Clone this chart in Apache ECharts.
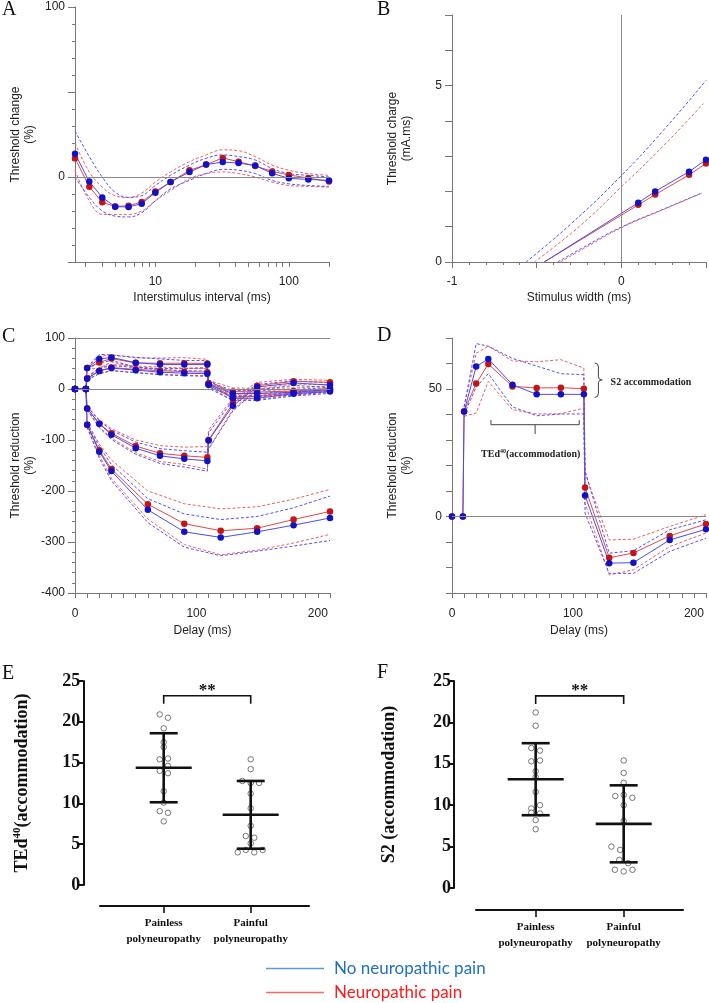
<!DOCTYPE html>
<html><head><meta charset="utf-8">
<script src="https://cdn.jsdelivr.net/npm/echarts@6/dist/echarts.min.js"></script>
<style>html,body{margin:0;padding:0;background:#fff}#c{width:709px;height:1003px}</style>
</head><body><div id="c"></div>
<script>
// ---------- Panel A: recovery cycle ----------
const aX      = [2.5,3.2,4,5,6.3,7.9,10,13,18,24,32,42,56,75,100,140,200];
const aBlue   = [13.7,-2.7,-12,-17.5,-17.6,-15.7,-9.2,-2.9,2.9,7.3,8.8,8.2,6.7,2.2,-0.8,-1.4,-2.0];
const aRed    = [11,-5.7,-14.9,-17.3,-16.9,-14.7,-8.6,-2.9,3.9,7.3,11.2,9,6.5,3.3,1.2,-0.6,-2.7];
const aBlueHi = [27,12,0,-9,-12,-11,-5,1,7,11,13,12,10,5,2,1,0];
const aBlueLo = [0,-12,-20,-23,-23.5,-21,-14,-7,-2,2,4.5,4,2,-2,-4,-5,-5.5];
const aRedHi  = [20,3,-6,-11,-12,-9.5,-3,3,9,13,16,15.5,12,7,4,2,1];
const aRedLo  = [4,-14,-22,-22,-22,-20,-14,-8,-1,2,3,2,0,-3,-5,-5.5,-6];
const aTicks  = [3,4,5,6,7,8,9,10,20,30,40,50,60,70,80,90,100,200];
const aLabels = [10,100];

// ---------- Panel B: charge-duration ----------
const bX      = [-0.455,0.1,0.2,0.4,0.5];
const bBlue   = [0,1.68,2.0,2.56,2.9];
const bRed    = [0,1.62,1.91,2.47,2.79];
const bBlueHiX= [-0.563,-0.3,0,0.25,0.5];   const bBlueHi = [0,1.07,2.45,3.74,5.15];
const bRedHiX = [-0.514,-0.25,0,0.25,0.485]; const bRedHi  = [0,1.0,2.13,3.3,4.49];
const bBlueLoX= [-0.376,-0.2,0,0.25,0.476];  const bBlueLo = [0,0.48,0.99,1.5,1.96];
const bRedLoX = [-0.36,-0.2,0,0.25,0.476];   const bRedLo  = [0,0.44,0.97,1.49,1.95];

// ---------- Panels C/D: threshold electrotonus ----------
const teX     = [0,9,10,20,30,50,70,90,109,110,130,150,180,210];
const teBandX = [10,20,30,50,70,90,109,110,130,150,180,210];
const d40Blue = [0,0,41.2,58.8,61.8,51.7,47.9,47.9,47.9,8.2,-18.3,-18.1,-9.2,-5.0];
const d40Red  = [0,0,41.2,52.2,59.8,51.0,50.4,50.5,50.1,11.4,-16.2,-14.3,-7.6,-2.9];
const d40BlueHi=[43,67.8,66.8,62,59,56,55.6,18,-14.4,-13.4,-5.2,-1.3];
const d40BlueLo=[40,50.8,56,43,39.5,40.2,40.2,1.3,-22.3,-22.3,-13.7,-8.5];
const d40RedHi= [43,64,66.8,61,60.7,61.5,58.2,17,-9.2,-8.9,-3.9,0.7];
const d40RedLo= [39.3,40.6,53,41.9,40.2,40.3,42.5,5.2,-22.9,-20.9,-11.8,-6.5];
const d20Blue = [0,0,20.3,35.3,41,37,33,31,30,9,-9,-9,-6.5,-1];
const d20Red  = [0,0,21,36,42,38.5,36,34,33,11,-5,-6,-4,1];
const d20BlueHi=[23,40,46,42,38,36,35,14,-3,-3,-1,3];
const d20BlueLo=[18,30,36,32,28,26,25,4,-15,-15,-12,-5];
const d20RedHi= [24,42,48,45,43,41,40,17,2,1,2,6];
const d20RedLo= [18,30,36,32,29,27,26,5,-12,-13,-10,-4];
const h20Blue = [0,0,-38,-68,-89.5,-116,-131,-137,-141,-101,-32.7,3.9,11.8,7.8];
const h20Red  = [0,0,-38,-68,-87,-112,-126,-131,-134,-100,-28,6.5,15,13];
const h20BlueHi=[-35,-62,-81,-104,-117,-121,-124,-86,-22,9,16,12];
const h20BlueLo=[-41,-76,-99,-128,-146,-153,-161,-118,-43,-2,7,3];
const h20RedHi= [-34,-60,-78,-100,-111,-114,-113,-80,-18,13,19,17];
const h20RedLo= [-40,-75,-96,-125,-142,-148,-157,-117,-40,0,10,8];
const h40X    = [0,9,10,20,30,60,90,120,150,180,210];
const h40BandX= [10,20,30,60,90,120,150,180,210];
const h40Blue = [0,0,-70,-123,-161,-237,-280,-291,-280,-267,-253];
const h40Red  = [0,0,-70,-120,-157,-226,-264,-278,-273,-256,-240];
const h40BlueHi=[-66,-113,-148,-215,-245,-256,-250,-233,-210];
const h40BlueLo=[-75,-135,-180,-262,-310,-327,-318,-308,-297];
const h40RedHi= [-65,-108,-139,-200,-225,-235,-231,-216,-197];
const h40RedLo= [-75,-130,-175,-255,-305,-325,-316,-302,-285];
const delayTicks = [0,10,20,30,40,50,60,70,80,90,100,110,120,130,140,150,160,170,180,190,200,210];
const delayLabels = [0,100,200];

// ---------- Panels E/F: scatter with mean ± SD ----------
const groups = ['Painless\npolyneuropathy','Painful\npolyneuropathy'];
const ePainless = [[0.954,20.9],[1.049,20.5],[1,19.2],[1,17.5],[1,16.9],[0.954,15.4],[1.049,15.5],[1.049,14.6],[0.954,14.0],[1.049,13.7],[1,11.5],[1,10.1],[0.954,9.05],[1.049,8.85],[1,7.8]];
const ePainful  = [[2,15.4],[2,14.2],[1.904,12.75],[2,12.5],[2.096,12.5],[2,11.2],[2,9.4],[2,7.25],[1.943,6.0],[2.041,5.8],[2,5.1],[1.851,4.0],[1.943,4.3],[2.041,4.0],[2.138,4.3]];
const eMean = [14.37,8.6];
const eSD   = [4.23,4.15];
const fPainless = [[1,21.2],[1,19.6],[0.95,16.9],[1.049,16.6],[0.95,15.3],[1.049,15.4],[1,14.1],[1,13.4],[1,11.6],[1.049,10.0],[0.95,9.6],[0.95,9.1],[1.049,9.0],[1,8.2],[1,7.1]];
const fPainful  = [[2,15.4],[2,13.9],[2,12.7],[1.905,11.1],[2,11.25],[2.098,10.9],[2,10.0],[2,8.1],[1.86,5.0],[1.96,4.6],[1.95,3.4],[2.05,3.0],[1.9,2.2],[2,2.0],[2.1,2.2]];
const fMean = [13.14,7.75];
const fSD   = [4.35,4.65];
const eTicks = [0,5,10,15,20,25];

// ---------- styling ----------
const BL='#4a4af5', BM='#1212c4', RL='#e44848', RM='#c41414', BD='#5050ff', RD='#f06060';
const AX='#777', TXT='#222', FS='Liberation Sans', SERIF='Liberation Serif';
const NB='No neuropathic pain', NR='Neuropathic pain';

function pairs(xs, ys){ return xs.map((x,i)=>[x, ys[i]]); }
function solid(name, lc, mc, g, data, extra){
  return Object.assign({type:'line', name, xAxisIndex:g, yAxisIndex:g, data, symbol:'circle', symbolSize:6.5,
    showSymbol:true, lineStyle:{color:lc, width:1}, itemStyle:{color:mc}, emphasis:{disabled:true}, z:4}, extra||{});
}
function dashed(c, g, data, smooth){
  return {type:'line', xAxisIndex:g, yAxisIndex:g, data, symbol:'none', smooth:smooth||false,
    lineStyle:{color:c, width:1, type:[3,2]}, emphasis:{disabled:true}, z:3};
}
function refLines(items){
  return {silent:true, symbol:'none', animation:false, label:{show:false},
    lineStyle:{color:'#8a8a8a', width:1, type:'solid'}, data:items};
}
function topX(g, o){
  return Object.assign({gridIndex:g, type:'value', nameLocation:'middle',
    axisLine:{show:true, onZero:false, lineStyle:{color:AX}}, splitLine:{show:false},
    nameTextStyle:{fontFamily:FS, fontSize:12, color:TXT}}, o);
}
function lab(vals, extra){ return Object.assign({customValues:vals, fontFamily:FS, fontSize:12, color:TXT}, extra||{}); }
function tick(extra){ return Object.assign({show:true, length:5, lineStyle:{color:AX}}, extra||{}); }
function minor(n){ return {show:true, splitNumber:n, length:3, lineStyle:{color:AX}}; }

const yNameStyle = {fontFamily:FS, fontSize:12, color:TXT, lineHeight:14};

// custom renderers
function statSeries(g, means, sds){
  return {type:'custom', xAxisIndex:g, yAxisIndex:g, z:6, silent:true,
    data: means.map((m,i)=>[i+1, m, sds[i]]),
    renderItem(params, api){
      const x=api.value(0), m=api.value(1), s=api.value(2);
      const pm=api.coord([x,m]), pt=api.coord([x,m+s]), pb=api.coord([x,m-s]);
      const st={stroke:'#111', lineWidth:2.6, fill:null};
      return {type:'group', children:[
        {type:'line', shape:{x1:pt[0],y1:pt[1],x2:pb[0],y2:pb[1]}, style:st},
        {type:'line', shape:{x1:pm[0]-28,y1:pm[1],x2:pm[0]+28,y2:pm[1]}, style:st},
        {type:'line', shape:{x1:pt[0]-14,y1:pt[1],x2:pt[0]+14,y2:pt[1]}, style:st},
        {type:'line', shape:{x1:pb[0]-14,y1:pb[1],x2:pb[0]+14,y2:pb[1]}, style:st}
      ]};
    }};
}
function sigSeries(g){
  return {type:'custom', xAxisIndex:g, yAxisIndex:g, z:6, silent:true, data:[[1,2]],
    renderItem(params, api){
      const a=api.coord([api.value(0),23.2]), b=api.coord([api.value(1),23.2]);
      return {type:'group', children:[
        {type:'polyline', shape:{points:[[a[0],a[1]+8],[a[0],a[1]],[b[0],b[1]],[b[0],b[1]+8]]}, style:{stroke:'#111', lineWidth:1.6, fill:null}},
        {type:'text', style:{text:'**', x:(a[0]+b[0])/2, y:a[1]+3, align:'center', verticalAlign:'bottom', font:'bold 17px "Liberation Serif"', fill:'#111'}}
      ]};
    }};
}
function scatterSeries(g, data){
  return {type:'scatter', xAxisIndex:g, yAxisIndex:g, data, symbol:'circle', symbolSize:5.5, z:5,
    itemStyle:{color:'#fff', borderColor:'#555', borderWidth:1}, emphasis:{disabled:true}, silent:true};
}
const annSeries = {type:'custom', xAxisIndex:3, yAxisIndex:3, z:6, silent:true, data:[[0,0]],
  renderItem(params, api){
    const t=api.coord([117.9,60.2]), bt=api.coord([117.9,46.7]), tip=api.coord([124.2,53.6]);
    const x0=t[0], xm=(t[0]+tip[0])/2, y0=t[1], y1=bt[1], ym=tip[1], x1=tip[0];
    const brace='M'+x0+' '+y0+' Q'+xm+' '+y0+' '+xm+' '+(y0+4)+' L'+xm+' '+(ym-3)+' Q'+xm+' '+ym+' '+x1+' '+ym+
      ' Q'+xm+' '+ym+' '+xm+' '+(ym+3)+' L'+xm+' '+(y1-4)+' Q'+xm+' '+y1+' '+x0+' '+y1;
    const l1=api.coord([32.2,37.8]), l2=api.coord([32.2,36.0]), r2=api.coord([105.2,36.0]), r1=api.coord([105.2,37.8]);
    const c1=api.coord([68.7,36.0]), c2=api.coord([68.7,32.3]);
    const s2=api.coord([131.1,52.4]), te=api.coord([65.1,24.5]);
    const ln={stroke:'#444', lineWidth:1, fill:null};
    return {type:'group', children:[
      {type:'path', shape:{pathData:brace}, style:ln},
      {type:'polyline', shape:{points:[l1,l2,r2,r1]}, style:ln},
      {type:'line', shape:{x1:c1[0],y1:c1[1],x2:c2[0],y2:c2[1]}, style:ln},
      {type:'text', style:{text:'S2 accommodation', x:s2[0], y:s2[1], verticalAlign:'middle', font:'bold 10px "Liberation Serif"', fill:'#222'}},
      {type:'text', style:{text:'{n|TEd}{s|40}{n|(accommodation)}', x:te[0], y:te[1], align:'center', verticalAlign:'middle',
        rich:{n:{fontFamily:SERIF, fontWeight:'bold', fontSize:10, lineHeight:12, fill:'#222'},
              s:{fontFamily:SERIF, fontWeight:'bold', fontSize:6, lineHeight:7, verticalAlign:'top', fill:'#222'}}}}
    ]};
  }};

function bottomX(g, min, max, off){
  return {gridIndex:g, type:'value', min, max, offset:off, splitLine:{show:false},
    axisLine:{show:true, onZero:false, lineStyle:{color:'#111', width:2}},
    axisTick:{show:true, customValues:[1,2], length:7, lineStyle:{color:'#111', width:1.6}},
    axisLabel:{customValues:[1,2], formatter:v=>groups[Math.round(v)-1], fontFamily:SERIF, fontWeight:'bold', fontSize:11, lineHeight:16, color:'#111', margin:9}};
}
function bottomY(g, off, nameRich, gap){
  return {gridIndex:g, type:'value', min:0, max:25, interval:5, offset:off, splitLine:{show:false},
    axisLine:{show:true, onZero:false, lineStyle:{color:'#111', width:2}},
    axisTick:{show:true, length:6, lineStyle:{color:'#111', width:2}},
    axisLabel:{customValues:eTicks, fontFamily:SERIF, fontWeight:'bold', fontSize:18, color:'#111', margin:3},
    name:nameRich, nameLocation:'middle', nameGap:gap,
    nameTextStyle:{fontFamily:SERIF, fontWeight:'bold', fontSize:18, color:'#111',
      rich:{n:{fontFamily:SERIF, fontWeight:'bold', fontSize:18, lineHeight:22, color:'#111'},
            s:{fontFamily:SERIF, fontWeight:'bold', fontSize:11, lineHeight:12, verticalAlign:'top', color:'#111'}}}};
}

const series = [
  // A
  Object.assign(dashed(RD,0,pairs(aX,aRedHi),0.4), {markLine:refLines([{yAxis:0}])}),
  dashed(RD,0,pairs(aX,aRedLo),0.4), dashed(BD,0,pairs(aX,aBlueHi),0.4), dashed(BD,0,pairs(aX,aBlueLo),0.4),
  solid(NR,RL,RM,0,pairs(aX,aRed)), solid(NB,BL,BM,0,pairs(aX,aBlue)),
  // B
  Object.assign(dashed(RD,1,pairs(bRedHiX,bRedHi),true), {markLine:refLines([{xAxis:0}])}),
  dashed(RD,1,pairs(bRedLoX,bRedLo),true), dashed(BD,1,pairs(bBlueHiX,bBlueHi),true), dashed(BD,1,pairs(bBlueLoX,bBlueLo),true),
  solid(NR,RL,RM,1,pairs(bX,bRed).map((p,i)=>i===0?{value:p,symbol:'none'}:p)),
  solid(NB,BL,BM,1,pairs(bX,bBlue).map((p,i)=>i===0?{value:p,symbol:'none'}:p)),
  // C
  Object.assign(dashed(RD,2,pairs(teBandX,d40RedHi)), {markLine:refLines([{yAxis:0},{yAxis:100}])}),
  dashed(RD,2,pairs(teBandX,d40RedLo)), dashed(BD,2,pairs(teBandX,d40BlueHi)), dashed(BD,2,pairs(teBandX,d40BlueLo)),
  dashed(RD,2,pairs(teBandX,d20RedHi)), dashed(RD,2,pairs(teBandX,d20RedLo)), dashed(BD,2,pairs(teBandX,d20BlueHi)), dashed(BD,2,pairs(teBandX,d20BlueLo)),
  dashed(RD,2,pairs(teBandX,h20RedHi)), dashed(RD,2,pairs(teBandX,h20RedLo)), dashed(BD,2,pairs(teBandX,h20BlueHi)), dashed(BD,2,pairs(teBandX,h20BlueLo)),
  dashed(RD,2,pairs(h40BandX,h40RedHi)), dashed(RD,2,pairs(h40BandX,h40RedLo)), dashed(BD,2,pairs(h40BandX,h40BlueHi)), dashed(BD,2,pairs(h40BandX,h40BlueLo)),
  solid(NR,RL,RM,2,pairs(teX,d40Red)), solid(NR,RL,RM,2,pairs(teX,d20Red)), solid(NR,RL,RM,2,pairs(teX,h20Red)), solid(NR,RL,RM,2,pairs(h40X,h40Red)),
  solid(NB,BL,BM,2,pairs(teX,d40Blue)), solid(NB,BL,BM,2,pairs(teX,d20Blue)), solid(NB,BL,BM,2,pairs(teX,h20Blue)), solid(NB,BL,BM,2,pairs(h40X,h40Blue)),
  // D
  Object.assign(dashed(RD,3,pairs(teBandX,d40RedHi)), {markLine:refLines([{yAxis:0}])}),
  dashed(RD,3,pairs(teBandX,d40RedLo)), dashed(BD,3,pairs(teBandX,d40BlueHi)), dashed(BD,3,pairs(teBandX,d40BlueLo)),
  solid(NR,RL,RM,3,pairs(teX,d40Red)), solid(NB,BL,BM,3,pairs(teX,d40Blue)),
  annSeries,
  // E
  scatterSeries(4, ePainless.concat(ePainful)), statSeries(4, eMean, eSD), sigSeries(4),
  // F
  scatterSeries(5, fPainless.concat(fPainful)), statSeries(5, fMean, fSD), sigSeries(5)
];

const option = {
  animation:false,
  backgroundColor:'#fff',
  grid:[
    {left:75, top:7, width:254, height:255},
    {left:452, top:15, width:254, height:247},
    {left:75, top:338, width:255, height:255},
    {left:452, top:338, width:254, height:255},
    {left:100, top:681, width:209, height:204},
    {left:476, top:681, width:207, height:207}
  ],
  xAxis:[
    topX(0,{type:'log', logBase:10, min:2.5, max:200, axisTick:tick({customValues:aTicks}), axisLabel:lab(aLabels,{margin:14}), name:'Interstimulus interval (ms)', nameGap:30}),
    topX(1,{min:-1, max:0.5, interval:0.5, axisTick:tick({length:6}), minorTick:minor(5), axisLabel:lab([-1,0],{margin:14}), name:'Stimulus width (ms)', nameGap:30}),
    topX(2,{min:0, max:210, axisTick:tick({customValues:delayTicks}), axisLabel:lab(delayLabels,{margin:15}), name:'Delay (ms)', nameGap:32}),
    topX(3,{min:0, max:210, axisTick:tick({customValues:delayTicks}), axisLabel:lab(delayLabels,{margin:15}), name:'Delay (ms)', nameGap:32}),
    bottomX(4, 0.268, 2.67, 21),
    bottomX(5, 0.322, 2.674, 22)
  ],
  yAxis:[
    topX(0,{min:-50, max:100, interval:50, axisTick:tick({length:7}), minorTick:minor(5), axisLabel:lab([0,100],{margin:10}), name:'Threshold change\n(%)', nameGap:38, nameTextStyle:yNameStyle}),
    topX(1,{min:0, max:7, interval:1, axisTick:tick({length:7}), axisLabel:lab([0,5],{margin:10}), name:'Threshold charge\n(mA.ms)', nameGap:38, nameTextStyle:yNameStyle}),
    topX(2,{min:-400, max:100, interval:100, axisTick:tick({length:7}), minorTick:minor(5), axisLabel:lab([-400,-300,-200,-100,0,100],{margin:10}), name:'Threshold reduction\n(%)', nameGap:38, nameTextStyle:yNameStyle}),
    topX(3,{min:-30, max:70, interval:10, axisTick:tick({length:6}), axisLabel:lab([0,50],{margin:10}), name:'Threshold reduction\n(%)', nameGap:38, nameTextStyle:yNameStyle}),
    bottomY(4, 16.7, '{n|TEd}{s|40}{n|(accommodation)}', 50),
    bottomY(5, 22, '{n|S2 (accommodation)}', 54)
  ],
  legend:{orient:'vertical', left:266, top:959, padding:0, itemWidth:58, itemHeight:1.5, itemGap:5, icon:'rect', selectedMode:false,
    textStyle:{fontFamily:'Lato', fontSize:17, lineHeight:19, padding:[0,0,0,5]},
    data:[{name:NB, itemStyle:{color:'#5b9bd5'}, textStyle:{color:'#1f6fc5'}},
          {name:NR, itemStyle:{color:'#ff6464'}, textStyle:{color:'#ff1a1a'}}]},
  graphic:[
    {type:'text', left:2, top:0, style:{text:'A', font:'20px "Liberation Serif"', fill:'#111'}},
    {type:'text', left:377, top:0, style:{text:'B', font:'20px "Liberation Serif"', fill:'#111'}},
    {type:'text', left:2, top:327, style:{text:'C', font:'20px "Liberation Serif"', fill:'#111'}},
    {type:'text', left:377, top:326, style:{text:'D', font:'20px "Liberation Serif"', fill:'#111'}},
    {type:'text', left:2, top:664, style:{text:'E', font:'20px "Liberation Serif"', fill:'#111'}},
    {type:'text', left:377, top:663, style:{text:'F', font:'20px "Liberation Serif"', fill:'#111'}}
  ],
  series
};
const chart = echarts.init(document.getElementById('c'));
chart.setOption(option);
</script></body></html>
